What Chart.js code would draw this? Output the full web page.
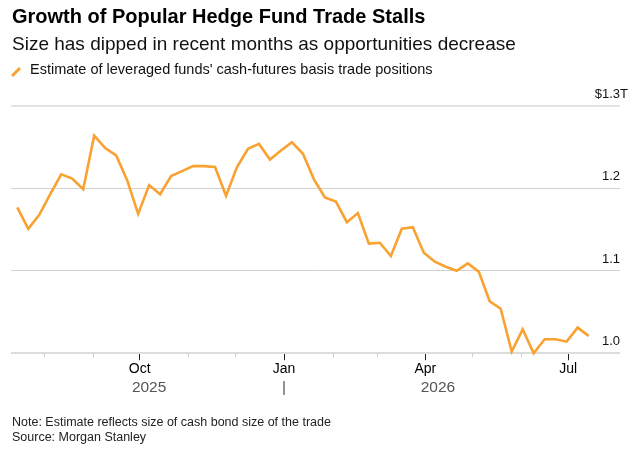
<!DOCTYPE html>
<html>
<head>
<meta charset="utf-8">
<script src="https://cdn.jsdelivr.net/npm/chart.js@4.4.1/dist/chart.umd.min.js"></script>
<style>
  body { margin: 0; background: #fff; font-family: "Liberation Sans", Arial, sans-serif; }
  #wrap { position: relative; width: 637px; height: 452px; overflow: hidden; }
  #wrap canvas { position: absolute; left: 0; top: 0; }
  .txt { position: absolute; left: 12px; white-space: nowrap; }
  #title { top: 6px; font-size: 20px; line-height: 20px; font-weight: bold; color: #000; }
  #subtitle { top: 34px; font-size: 19px; line-height: 19px; color: #111; }
  #legend { top: 62px; left: 30px; font-size: 14.5px; line-height: 14.5px; color: #111; }
  #legendIcon { position: absolute; left: 10px; top: 65px; }
  #note { top: 416px; font-size: 12.5px; line-height: 12.5px; color: #222; }
  #source { top: 431px; font-size: 12.5px; line-height: 12.5px; color: #222; }
</style>
</head>
<body>
<div id="wrap">
  <canvas id="basisChart" width="637" height="452"></canvas>
  <div class="txt" id="title">Growth of Popular Hedge Fund Trade Stalls</div>
  <div class="txt" id="subtitle">Size has dipped in recent months as opportunities decrease</div>
  <svg id="legendIcon" width="14" height="14"><line x1="2" y1="11" x2="10" y2="3" stroke="#f9a131" stroke-width="3"/></svg>
  <div class="txt" id="legend">Estimate of leveraged funds' cash-futures basis trade positions</div>
  <div class="txt" id="note">Note: Estimate reflects size of cash bond size of the trade</div>
  <div class="txt" id="source">Source: Morgan Stanley</div>
</div>
<script>
// --- Data ---

const weekDates = [
    '2025-07-15', '2025-07-22', '2025-07-29', '2025-08-05', '2025-08-12', '2025-08-19', '2025-08-26',
    '2025-09-02', '2025-09-09', '2025-09-16', '2025-09-23', '2025-09-30', '2025-10-07', '2025-10-14',
    '2025-10-21', '2025-10-28', '2025-11-04', '2025-11-11', '2025-11-18', '2025-11-25', '2025-12-02',
    '2025-12-09', '2025-12-16', '2025-12-23', '2025-12-30', '2026-01-06', '2026-01-13', '2026-01-20',
    '2026-01-27', '2026-02-03', '2026-02-10', '2026-02-17', '2026-02-24', '2026-03-03', '2026-03-10',
    '2026-03-17', '2026-03-24', '2026-03-31', '2026-04-07', '2026-04-14', '2026-04-21', '2026-04-28',
    '2026-05-05', '2026-05-12', '2026-05-19', '2026-05-26', '2026-06-02', '2026-06-09', '2026-06-16',
    '2026-06-23', '2026-06-30', '2026-07-07', '2026-07-14'
];

// $ trillions
const basisPositions = [
    1.177, 1.151, 1.168, 1.193, 1.217, 1.212, 1.199,
    1.264, 1.249, 1.240, 1.210, 1.169, 1.204, 1.193,
    1.215, 1.221, 1.227, 1.227, 1.226, 1.191, 1.226,
    1.248, 1.254, 1.235, 1.246, 1.256, 1.242, 1.211,
    1.189, 1.184, 1.159, 1.170, 1.133, 1.134, 1.118,
    1.151, 1.153, 1.122, 1.111, 1.105, 1.100, 1.109,
    1.099, 1.063, 1.054, 1.002, 1.029, 1.000, 1.017,
    1.017, 1.014, 1.031, 1.021
];

const monthTicks = [
    '2025-08-01', '2025-09-01', '2025-10-01', '2025-11-01', '2025-12-01', '2026-01-01',
    '2026-02-01', '2026-03-01', '2026-04-01', '2026-05-01', '2026-06-01', '2026-07-01'
];
const monthLabels = ['', '', 'Oct', '', '', 'Jan', '', '', 'Apr', '', '', 'Jul'];

const yearLabels = ['2025', '|', '2026'];
const yearAnchors = ['2025-10-07', '2026-01-01', '2026-04-09'];

const yTicks = [1.0, 1.1, 1.2, 1.3];
const yLabels = ['1.0', '1.1', '1.2', '$1.3'];
const yUnit = 'T';

const xRange = ['2025-07-11', '2026-08-03'];

// --- Helpers ---

const ORANGE = '#f9a131';
const FONT = '"Liberation Sans", Arial, sans-serif';

function dayNum(iso) {
    const p = iso.split('-').map(Number);
    return Date.UTC(p[0], p[1] - 1, p[2]) / 86400000;
}

// Minor month ticks, year row and right-hand value labels
const axisDecor = {
    id: 'axisDecor',
    afterDraw(chart) {
        const ctx = chart.ctx;
        const x = chart.scales.x;
        const y = chart.scales.y;
        const area = chart.chartArea;
        ctx.save();

        // minor ticks
        ctx.strokeStyle = '#cfcfcf';
        ctx.lineWidth = 1;
        monthTicks.forEach((d, i) => {
            if (monthLabels[i]) return;
            const px = Math.round(x.getPixelForValue(dayNum(d))) + 0.5;
            ctx.beginPath();
            ctx.moveTo(px, area.bottom);
            ctx.lineTo(px, area.bottom + 4);
            ctx.stroke();
        });

        // year row
        ctx.fillStyle = '#555';
        ctx.font = '15.5px ' + FONT;
        ctx.textAlign = 'center';
        ctx.textBaseline = 'alphabetic';
        yearLabels.forEach((t, i) => {
            const px = x.getPixelForValue(dayNum(yearAnchors[i]));
            ctx.fillText(t, px, 391.5);
        });

        // value labels above gridlines, unit hanging past the edge
        ctx.fillStyle = '#111';
        ctx.font = '13px ' + FONT;
        ctx.textBaseline = 'middle';
        yTicks.forEach((v, i) => {
            const py = y.getPixelForValue(v) - 11.5;
            ctx.textAlign = 'right';
            ctx.fillText(yLabels[i], area.right, py);
            if (i === yTicks.length - 1) {
                ctx.textAlign = 'left';
                ctx.fillText(yUnit, area.right, py);
            }
        });
        ctx.restore();
    }
};

function initBasisChart() {
    const ctx = document.getElementById('basisChart').getContext('2d');

    new Chart(ctx, {
        type: 'line',
        data: {
            datasets: [{
                label: "Estimate of leveraged funds' cash-futures basis trade positions",
                data: weekDates.map((d, i) => ({ x: dayNum(d), y: basisPositions[i] })),
                borderColor: ORANGE,
                borderWidth: 2.6,
                pointRadius: 0,
                tension: 0,
                clip: false
            }]
        },
        options: {
            responsive: false,
            animation: false,
            layout: { padding: { left: 11, right: 17, top: 106, bottom: 73 } },
            plugins: {
                legend: { display: false },
                tooltip: { enabled: false }
            },
            scales: {
                x: {
                    type: 'linear',
                    min: dayNum(xRange[0]),
                    max: dayNum(xRange[1]),
                    afterBuildTicks: s => { s.ticks = monthTicks.map(d => ({ value: dayNum(d) })); },
                    border: { display: false },
                    grid: {
                        drawOnChartArea: false,
                        drawTicks: true,
                        tickLength: 7,
                        tickWidth: 1,
                        tickColor: c => monthLabels[c.index] ? '#222' : 'rgba(0,0,0,0)'
                    },
                    ticks: {
                        autoSkip: false,
                        maxRotation: 0,
                        padding: 1,
                        color: '#000',
                        font: { family: FONT, size: 14 },
                        callback: (v, i) => monthLabels[i]
                    }
                },
                y: {
                    position: 'right',
                    min: 1.0,
                    max: 1.3,
                    afterBuildTicks: s => { s.ticks = yTicks.map(v => ({ value: v })); },
                    border: { display: false },
                    grid: {
                        drawTicks: false,
                        color: c => (c.index === 0 ? '#dcdcdc' : c.index === yTicks.length - 1 ? '#e4e4e4' : '#d2d2d2'),
                        lineWidth: c => (c.index === 0 || c.index === yTicks.length - 1 ? 2 : 1)
                    },
                    ticks: { display: false }
                }
            }
        },
        plugins: [axisDecor]
    });
}

document.addEventListener('DOMContentLoaded', initBasisChart);
</script>
</body>
</html>
